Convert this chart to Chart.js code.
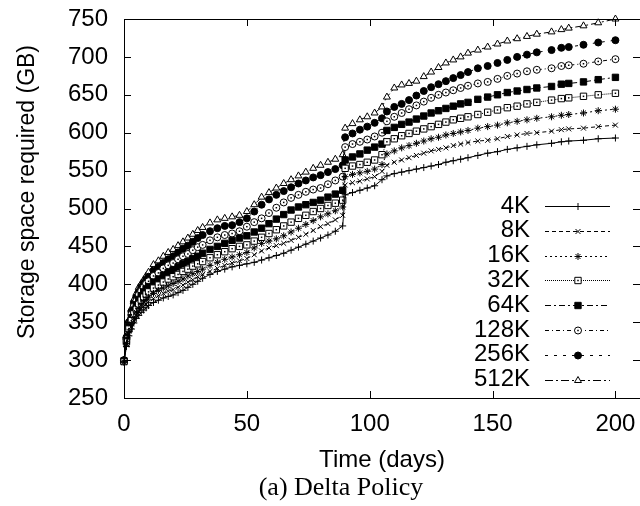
<!DOCTYPE html>
<html><head><meta charset="utf-8">
<script src="https://cdn.jsdelivr.net/npm/chart.js@4/dist/chart.umd.min.js"></script>
<style>html,body{margin:0;padding:0;background:#fff}canvas{display:block}</style>
</head><body><canvas id="c" width="640" height="506"></canvas>
<script>
// ---- data ----
const days = [0,1,2,3,4,5,6,7,8,9,10,
  12,14,16,18,20,22,24,26,28,30,32,
  35,38,41,44,47,50,53,56,59,62,65,68,71,74,77,80,83,86,89,
  90,93,96,99,102,105,107,110,113,116,119,122,125,128,131,134,137,140,
  144,148,152,156,160,164,168,
  174,178,181,187,193,200];
const seriesLabels = ['4K','8K','16K','32K','64K','128K','256K','512K'];
const storage4K = [297,318,332,341,349,355,359,363,366,369,372,
  376,379,382,384,386,389,392,396,400,404,408,
  413,417,420,423,425,427,429,432,435,438,441,445,449,453,457,461,465,470,477,
  518,521,524,527,530,538,543,546,548,550,552,554,556,558,561,563,565,567,
  570,573,575,578,580,582,584,
  586,588,589,590,592,593];
const storage8K = [297,320,335,344,352,359,364,368,371,374,377,
  381,385,388,391,393,396,399,403,406,410,413,
  417,421,425,428,431,434,439,444,448,451,454,458,462,466,471,476,480,485,491,
  531,534,536,539,542,549,557,561,564,567,570,573,576,578,580,583,585,587,
  589,590,592,595,597,599,600,
  602,604,605,606,608,610];
const storage16K = [298,322,338,348,356,363,368,373,377,380,383,
  388,392,395,398,401,404,407,411,414,417,420,
  425,429,433,436,439,442,448,454,457,460,464,469,474,479,484,489,493,497,502,
  542,545,547,549,552,558,572,576,580,583,586,589,592,594,597,599,601,603,
  606,608,610,613,615,617,619,
  621,623,624,626,629,631];
const storage32K = [298,324,341,352,361,368,374,379,383,387,390,
  395,399,403,407,410,413,417,420,424,427,430,
  435,439,443,447,450,452,457,462,467,472,477,482,487,491,496,500,504,507,511,
  553,556,558,561,564,571,588,592,596,599,602,605,608,611,614,617,619,621,
  624,627,630,633,635,638,640,
  643,645,646,648,650,652];
const storage64K = [299,326,344,356,366,373,380,385,390,394,397,
  403,407,412,416,419,423,427,430,434,437,441,
  446,450,454,458,461,464,469,474,480,486,492,498,502,505,508,511,515,519,524,
  564,568,572,577,581,585,603,607,611,614,618,622,626,629,632,635,638,640,
  644,647,650,653,655,657,659,
  661,664,665,667,670,673];
const storage128K = [299,328,347,360,371,378,386,391,396,401,404,
  411,415,421,425,428,433,437,440,445,449,452,
  458,462,465,467,470,476,482,487,494,501,508,514,518,522,525,527,532,537,542,
  581,585,588,591,595,600,615,621,626,631,636,641,646,650,653,656,659,662,
  665,667,671,675,678,681,683,
  685,688,689,691,694,697];
const storage256K = [300,330,350,364,375,383,390,396,401,406,410,
  418,423,428,433,437,442,447,451,456,461,465,
  470,474,477,478,482,487,496,505,512,518,523,528,533,537,541,544,548,552,557,
  594,599,604,608,613,619,628,634,638,643,649,655,660,664,668,672,676,680,
  685,688,692,696,700,703,706,
  709,712,713,716,719,722];
const storage512K = [300,332,353,368,380,388,396,401,406,411,416,
  426,431,437,442,446,451,456,461,466,471,475,
  481,485,487,489,491,496,505,515,521,527,533,538,543,548,553,557,561,565,571,
  606,612,617,621,626,634,647,659,663,665,668,674,680,686,692,696,700,705,
  709,713,717,721,724,727,730,
  733,736,738,741,745,750];
const xTickValues = [0,50,100,150,200];
const yTickValues = [250,300,350,400,450,500,550,600,650,700,750];
const xTitle = 'Time (days)';
const yTitle = 'Storage space required (GB)';
const caption = '(a) Delta Policy';

// ---- styles ----
const seriesValues = [storage4K,storage8K,storage16K,storage32K,storage64K,storage128K,storage256K,storage512K];
const styles = [
  {ps:'cross',    r:3.5, bg:'#000', dash:[]},
  {ps:'crossRot', r:3.5, bg:'#000', dash:[4,3]},
  {ps:'star',     r:3.5, bg:'#000', dash:[2,3]},
  {ps:'rect',     r:4.5, bg:'#fff', dash:[1,1], dot:true},
  {ps:'rect',     r:4.5, bg:'#000', dash:[6,3,2,3]},
  {ps:'circle',   r:3.5, bg:'#fff', dash:[4,3,1,3], dot:true},
  {ps:'circle',   r:3.5, bg:'#000', dash:[3,6]},
  {ps:'triangle', r:4,   bg:'#fff', dash:[8,3,2,3]}
];
const FONT = "'Liberation Sans', Arial, sans-serif";

const datasets = seriesLabels.map((lab,i)=>({
  label: lab,
  data: days.map((d,j)=>({x:d, y:seriesValues[i][j]})),
  borderColor:'#000', borderWidth:1, borderDash: styles[i].dash,
  pointStyle: styles[i].ps, pointRadius: styles[i].r,
  pointBackgroundColor: styles[i].bg, pointBorderColor:'#000', pointBorderWidth:1,
  tension:0, fill:false, clip:false
}));

const framePlugin = {
  id:'frame',
  afterDatasetsDraw(chart){
    const ctx = chart.ctx;
    ctx.save(); ctx.fillStyle='#000';
    chart.data.datasets.forEach((ds,i)=>{
      if(!styles[i].dot) return;
      chart.getDatasetMeta(i).data.forEach(el=>{ ctx.fillRect(el.x-0.75, el.y-0.75, 1.5, 1.5); });
    });
    ctx.restore();
  },
  afterDraw(chart){
    const {ctx, chartArea:a, scales} = chart;
    ctx.save();
    ctx.strokeStyle='#000'; ctx.lineWidth=1; ctx.setLineDash([]);
    ctx.strokeRect(Math.round(a.left)+0.5, Math.round(a.top)+0.5, Math.round(a.right-a.left), Math.round(a.bottom-a.top));
    const tl=7;
    ctx.beginPath();
    yTickValues.forEach(v=>{
      const y=Math.round(scales.y.getPixelForValue(v))+0.5;
      ctx.moveTo(a.left,y); ctx.lineTo(a.left+tl,y);
      ctx.moveTo(a.right,y); ctx.lineTo(a.right-tl,y);
    });
    xTickValues.forEach(v=>{
      const x=Math.round(scales.x.getPixelForValue(v))+0.5;
      ctx.moveTo(x,a.bottom); ctx.lineTo(x,a.bottom-tl);
      ctx.moveTo(x,a.top); ctx.lineTo(x,a.top+tl);
    });
    ctx.stroke();
    // legend
    ctx.font = "24px " + FONT;
    ctx.fillStyle='#000'; ctx.textAlign='right'; ctx.textBaseline='middle';
    chart.data.datasets.forEach((ds,i)=>{
      const y = 206 + i*24.8;
      ctx.fillText(ds.label, 530, y);
      ctx.save();
      ctx.setLineDash(styles[i].dash); ctx.lineWidth=1; ctx.strokeStyle='#000';
      ctx.beginPath(); ctx.moveTo(545, Math.round(y)+0.5); ctx.lineTo(610, Math.round(y)+0.5); ctx.stroke();
      ctx.setLineDash([]);
      ctx.fillStyle = styles[i].bg; ctx.strokeStyle='#000'; ctx.lineWidth=1;
      Chart.helpers.drawPoint(ctx, {pointStyle:styles[i].ps, radius:styles[i].r, rotation:0, borderWidth:1}, 578, Math.round(y)+0.5);
      if(styles[i].dot){ ctx.fillStyle='#000'; ctx.fillRect(578-0.75, Math.round(y)+0.5-0.75, 1.5,1.5); }
      ctx.restore();
    });
    // y-axis title
    ctx.save();
    ctx.translate(28, 192); ctx.rotate(-Math.PI/2);
    ctx.font = "23px " + FONT; ctx.textAlign='center'; ctx.textBaseline='middle'; ctx.fillStyle='#000';
    ctx.fillText(yTitle, 0, 0);
    ctx.restore();
    // caption
    ctx.font = "26px 'Liberation Serif', 'Times New Roman', serif";
    ctx.textAlign='center'; ctx.textBaseline='middle'; ctx.fillStyle='#000';
    ctx.fillText(caption, 341, 488);
    ctx.restore();
  }
};

new Chart(document.getElementById('c'), {
  type:'line',
  data:{datasets},
  options:{
    responsive:false, animation:false, devicePixelRatio:1,
    layout:{autoPadding:false, padding:{top:19,right:0,bottom:0,left:0}},
    plugins:{legend:{display:false}, tooltip:{enabled:false}},
    scales:{
      x:{type:'linear', min:0, max:210,
        grid:{display:false, drawTicks:false}, border:{display:false},
        afterBuildTicks(s){ s.ticks = xTickValues.map(v=>({value:v})); },
        afterFit(s){ s.height = 108; s.paddingLeft = 0; s.paddingRight = 0; },
        ticks:{color:'#000', font:{family:FONT, size:24}, padding:12, maxRotation:0},
        title:{display:true, text:xTitle, color:'#000', font:{family:FONT, size:24}, padding:{top:0,bottom:31}}
      },
      y:{type:'linear', min:250, max:750,
        grid:{display:false, drawTicks:false}, border:{display:false},
        afterBuildTicks(s){ s.ticks = yTickValues.map(v=>({value:v})); },
        afterFit(s){ s.width = 124; s.paddingTop = 0; s.paddingBottom = 0; },
        ticks:{color:'#000', font:{family:FONT, size:24}, padding:16},
        title:{display:false}
      }
    }
  },
  plugins:[framePlugin]
});
</script></body></html>
